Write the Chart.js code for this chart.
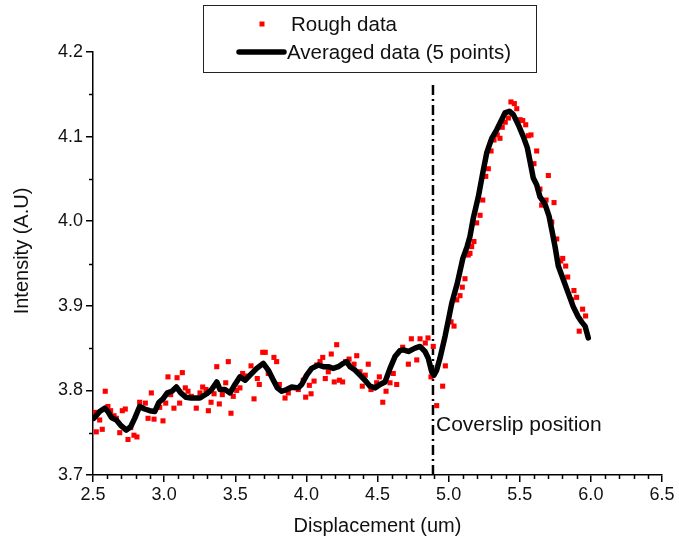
<!DOCTYPE html>
<html>
<head>
<meta charset="utf-8">
<script src="https://cdn.jsdelivr.net/npm/chart.js@4.4.1/dist/chart.umd.min.js"></script>
<style>
  html, body { margin: 0; padding: 0; background: #fff; }
  #wrap { width: 679px; height: 544px; }
</style>
</head>
<body>
<div id="wrap"><canvas id="c" width="679" height="544"></canvas></div>
<script>
// 生データ（赤い点）
const roughX = [
  2.512, 2.523, 2.547, 2.565, 2.586, 2.605, 2.624, 2.648, 2.664, 2.688,
  2.706, 2.727, 2.746, 2.765, 2.788, 2.809, 2.828, 2.868, 2.887, 2.910,
  2.929, 2.969, 2.992, 3.011, 3.027, 3.046, 3.069, 3.091, 3.109, 3.128,
  3.149, 3.168, 3.191, 3.226, 3.252, 3.271, 3.294, 3.311, 3.330, 3.351,
  3.370, 3.388, 3.409, 3.433, 3.451, 3.470, 3.486, 3.510, 3.533, 3.552,
  3.569, 3.611, 3.632, 3.655, 3.669, 3.693, 3.711, 3.732, 3.772, 3.791,
  3.810, 3.850, 3.873, 3.908, 3.943, 3.978, 3.995, 4.021, 4.033, 4.054,
  4.073, 4.096, 4.115, 4.133, 4.154, 4.175, 4.196, 4.213, 4.232, 4.255,
  4.276, 4.300, 4.335, 4.354, 4.377, 4.393, 4.414, 4.435, 4.454, 4.494,
  4.513, 4.537, 4.560, 4.588, 4.611, 4.635, 4.677, 4.717, 4.738, 4.776,
  4.799, 4.836, 4.855, 4.876, 4.892, 4.916, 4.958, 4.977, 5.017, 5.038,
  5.057, 5.080, 5.096, 5.115, 5.138, 5.150, 5.162, 5.178, 5.197, 5.221,
  5.240, 5.261, 5.279, 5.298, 5.319, 5.342, 5.361, 5.377, 5.398, 5.420,
  5.438, 5.462, 5.479, 5.502, 5.521, 5.542, 5.560, 5.579, 5.600, 5.619,
  5.642, 5.654, 5.685, 5.701, 5.725, 5.741, 5.760, 5.788, 5.802, 5.823,
  5.837, 5.865, 5.881, 5.900, 5.918, 5.942, 5.963
];
const roughY = [
  3.774, 3.751, 3.765, 3.754, 3.799, 3.781, 3.776, 3.770, 3.767, 3.750,
  3.776, 3.778, 3.742, 3.756, 3.747, 3.745, 3.786, 3.785, 3.767, 3.797,
  3.766, 3.780, 3.764, 3.785, 3.816, 3.795, 3.779, 3.815, 3.785, 3.821,
  3.803, 3.799, 3.793, 3.779, 3.797, 3.804, 3.801, 3.776, 3.786, 3.796,
  3.828, 3.784, 3.795, 3.809, 3.834, 3.773, 3.793, 3.800, 3.803, 3.820,
  3.817, 3.829, 3.790, 3.814, 3.807, 3.845, 3.845, 3.820, 3.839, 3.834,
  3.807, 3.791, 3.797, 3.803, 3.801, 3.812, 3.792, 3.806, 3.796, 3.811,
  3.830, 3.834, 3.839, 3.814, 3.822, 3.843, 3.810, 3.854, 3.812, 3.810,
  3.834, 3.837, 3.831, 3.841, 3.822, 3.805, 3.818, 3.831, 3.801, 3.809,
  3.816, 3.786, 3.799, 3.809, 3.820, 3.807, 3.851, 3.831, 3.861, 3.836,
  3.861, 3.856, 3.862, 3.816, 3.852, 3.782, 3.805, 3.829, 3.881, 3.876,
  3.907, 3.912, 3.922, 3.932, 3.960, 3.962, 3.970, 3.976, 3.998, 4.007,
  4.025, 4.053, 4.062, 4.083, 4.096, 4.102, 4.098, 4.111, 4.117, 4.122,
  4.141, 4.139, 4.133, 4.120, 4.119, 4.114, 4.101, 4.102, 4.068, 4.083,
  4.038, 4.019, 4.025, 4.054, 3.999, 4.022, 3.979, 3.953, 3.956, 3.947,
  3.934, 3.907, 3.918, 3.910, 3.870, 3.896, 3.888
];

// 5点移動平均（黒線）
const avgX = [
  2.507, 2.547, 2.582, 2.605, 2.629, 2.664, 2.699, 2.734, 2.765, 2.793,
  2.828, 2.863, 2.899, 2.934, 2.964, 2.992, 3.022, 3.055, 3.086, 3.117,
  3.152, 3.191, 3.252, 3.299, 3.334, 3.370, 3.393, 3.428, 3.463, 3.498,
  3.533, 3.569, 3.604, 3.651, 3.697, 3.732, 3.768, 3.796, 3.827, 3.862,
  3.897, 3.943, 3.967, 4.002, 4.037, 4.084, 4.119, 4.154, 4.189, 4.224,
  4.260, 4.283, 4.307, 4.342, 4.377, 4.412, 4.447, 4.483, 4.518, 4.553,
  4.588, 4.623, 4.658, 4.681, 4.717, 4.764, 4.799, 4.834, 4.857, 4.881,
  4.897, 4.916, 4.939, 4.975, 4.998, 5.022, 5.060, 5.100, 5.130, 5.150,
  5.174, 5.209, 5.240, 5.268, 5.303, 5.338, 5.373, 5.396, 5.427, 5.455,
  5.490, 5.525, 5.553, 5.572, 5.595, 5.619, 5.642, 5.678, 5.706, 5.725,
  5.748, 5.771, 5.806, 5.841, 5.876, 5.911, 5.935, 5.959, 5.982
];
const avgY = [
  3.767, 3.775, 3.779, 3.775, 3.768, 3.765, 3.758, 3.753, 3.757, 3.767,
  3.781, 3.778, 3.776, 3.775, 3.786, 3.790, 3.797, 3.799, 3.804, 3.797,
  3.792, 3.791, 3.791, 3.796, 3.801, 3.810, 3.801, 3.801, 3.797, 3.807,
  3.816, 3.812, 3.818, 3.826, 3.832, 3.824, 3.812, 3.803, 3.799, 3.801,
  3.804, 3.803, 3.807, 3.818, 3.826, 3.830, 3.828, 3.828, 3.826, 3.828,
  3.832, 3.834, 3.828, 3.824, 3.818, 3.812, 3.805, 3.803, 3.807, 3.810,
  3.826, 3.840, 3.847, 3.848, 3.846, 3.850, 3.852, 3.846, 3.838, 3.822,
  3.818, 3.824, 3.838, 3.864, 3.883, 3.903, 3.926, 3.956, 3.970, 3.982,
  4.004, 4.029, 4.057, 4.081, 4.098, 4.108, 4.120, 4.128, 4.130, 4.126,
  4.114, 4.100, 4.087, 4.071, 4.051, 4.043, 4.029, 4.020, 4.006, 3.990,
  3.970, 3.947, 3.931, 3.915, 3.899, 3.887, 3.881, 3.876, 3.862
];

// カバースリップ位置（一点鎖線）
const coverslipX = 4.89;
const coverslipY = [3.7, 4.162];

const X_MIN = 2.5, X_MAX = 6.5, X_MAJOR = 0.5, X_MINOR = 0.1;
const Y_MIN = 3.7, Y_MAX = 4.2, Y_MAJOR = 0.1, Y_MINOR = 0.05;

const FONT = '"Liberation Sans", Arial, Helvetica, sans-serif';
const TEXT = '#111';

const toPts = (xs, ys) => xs.map((x, i) => ({ x, y: ys[i] }));

// 補助目盛・軸タイトル・注記・凡例を描く
const decor = {
  id: 'decor',
  afterDraw(chart) {
    const { ctx, chartArea: a, scales: { x, y } } = chart;
    ctx.save();
    ctx.strokeStyle = '#000';
    ctx.lineWidth = 1.5;
    ctx.beginPath();
    for (let v = X_MIN; v <= X_MAX + 1e-9; v += X_MINOR) {
      const r = Math.round(v * 10) / 10;
      if (Math.abs(r / X_MAJOR - Math.round(r / X_MAJOR)) < 1e-6) continue;
      const px = Math.round(x.getPixelForValue(r)) + 0.5;
      ctx.moveTo(px, a.bottom);
      ctx.lineTo(px, a.bottom + 4);
    }
    for (let v = Y_MIN; v <= Y_MAX + 1e-9; v += Y_MINOR) {
      const r = Math.round(v * 100) / 100;
      if (Math.abs(r / Y_MAJOR - Math.round(r / Y_MAJOR)) < 1e-6) continue;
      const py = Math.round(y.getPixelForValue(r)) + 0.5;
      ctx.moveTo(a.left, py);
      ctx.lineTo(a.left - 4, py);
    }
    ctx.stroke();

    // Y軸タイトル
    ctx.fillStyle = TEXT;
    ctx.font = `20px ${FONT}`;
    ctx.save();
    ctx.translate(22, 251);
    ctx.rotate(-Math.PI / 2);
    ctx.textAlign = 'center';
    ctx.textBaseline = 'middle';
    ctx.fillText('Intensity (A.U)', 0, 0);
    ctx.restore();

    // 注記
    ctx.textAlign = 'left';
    ctx.textBaseline = 'middle';
    ctx.font = `21px ${FONT}`;
    ctx.fillText('Coverslip position', x.getPixelForValue(coverslipX) + 3, y.getPixelForValue(3.759));

    // 凡例
    ctx.fillStyle = '#fff';
    ctx.fillRect(203, 5, 333, 67);
    ctx.strokeStyle = '#222';
    ctx.lineWidth = 1;
    ctx.strokeRect(203.5, 5.5, 333, 67);
    ctx.fillStyle = '#ff0000';
    ctx.fillRect(259.5, 21.5, 5, 5);
    ctx.strokeStyle = '#000';
    ctx.lineWidth = 5.5;
    ctx.lineCap = 'round';
    ctx.beginPath();
    ctx.moveTo(239, 52);
    ctx.lineTo(284, 52);
    ctx.stroke();
    ctx.fillStyle = TEXT;
    ctx.font = `20.5px ${FONT}`;
    ctx.fillText('Rough data', 291, 25);
    ctx.fillText('Averaged data (5 points)', 287, 53);
    ctx.restore();
  }
};

new Chart(document.getElementById('c').getContext('2d'), {
  type: 'scatter',
  data: {
    datasets: [
      {
        label: 'Averaged data (5 points)',
        data: toPts(avgX, avgY),
        showLine: true,
        borderColor: '#000',
        borderWidth: 5.5,
        borderJoinStyle: 'round',
        borderCapStyle: 'round',
        pointRadius: 0,
        tension: 0,
        order: 0,
      },
      {
        label: 'Rough data',
        data: toPts(roughX, roughY),
        pointStyle: 'rect',
        pointRadius: 3.6,
        pointBorderWidth: 0,
        pointBackgroundColor: '#ff0000',
        backgroundColor: '#ff0000',
        borderWidth: 0,
        order: 1,
      },
      {
        label: 'coverslip',
        data: coverslipY.map(v => ({ x: coverslipX, y: v })),
        showLine: true,
        borderColor: '#000',
        borderWidth: 2.5,
        borderDash: [10, 4, 2, 4],
        pointRadius: 0,
        order: 2,
      },
    ],
  },
  options: {
    responsive: false,
    animation: false,
    layout: { padding: { left: 0, top: 52, right: 17, bottom: 0 } },
    plugins: {
      legend: { display: false },
      tooltip: { enabled: false },
    },
    scales: {
      x: {
        type: 'linear',
        min: X_MIN,
        max: X_MAX,
        afterFit: s => { s.height = 69; },
        ticks: {
          stepSize: X_MAJOR,
          padding: 2,
          color: TEXT,
          font: { family: FONT, size: 18 },
          callback: v => v.toFixed(1),
        },
        grid: { drawOnChartArea: false, drawTicks: true, tickLength: 7, color: '#000', lineWidth: 1.5 },
        border: { display: true, color: '#000', width: 1.5 },
        title: {
          display: true,
          text: 'Displacement (um)',
          color: TEXT,
          font: { family: FONT, size: 20 },
          padding: { top: 0, bottom: 6 },
        },
      },
      y: {
        type: 'linear',
        min: Y_MIN,
        max: Y_MAX,
        afterFit: s => { s.width = 93; },
        ticks: {
          stepSize: Y_MAJOR,
          padding: 3,
          color: TEXT,
          font: { family: FONT, size: 18 },
          callback: v => v.toFixed(1),
        },
        grid: { drawOnChartArea: false, drawTicks: true, tickLength: 7, color: '#000', lineWidth: 1.5 },
        border: { display: true, color: '#000', width: 1.5 },
      },
    },
  },
  plugins: [decor],
});
</script>
</body>
</html>
